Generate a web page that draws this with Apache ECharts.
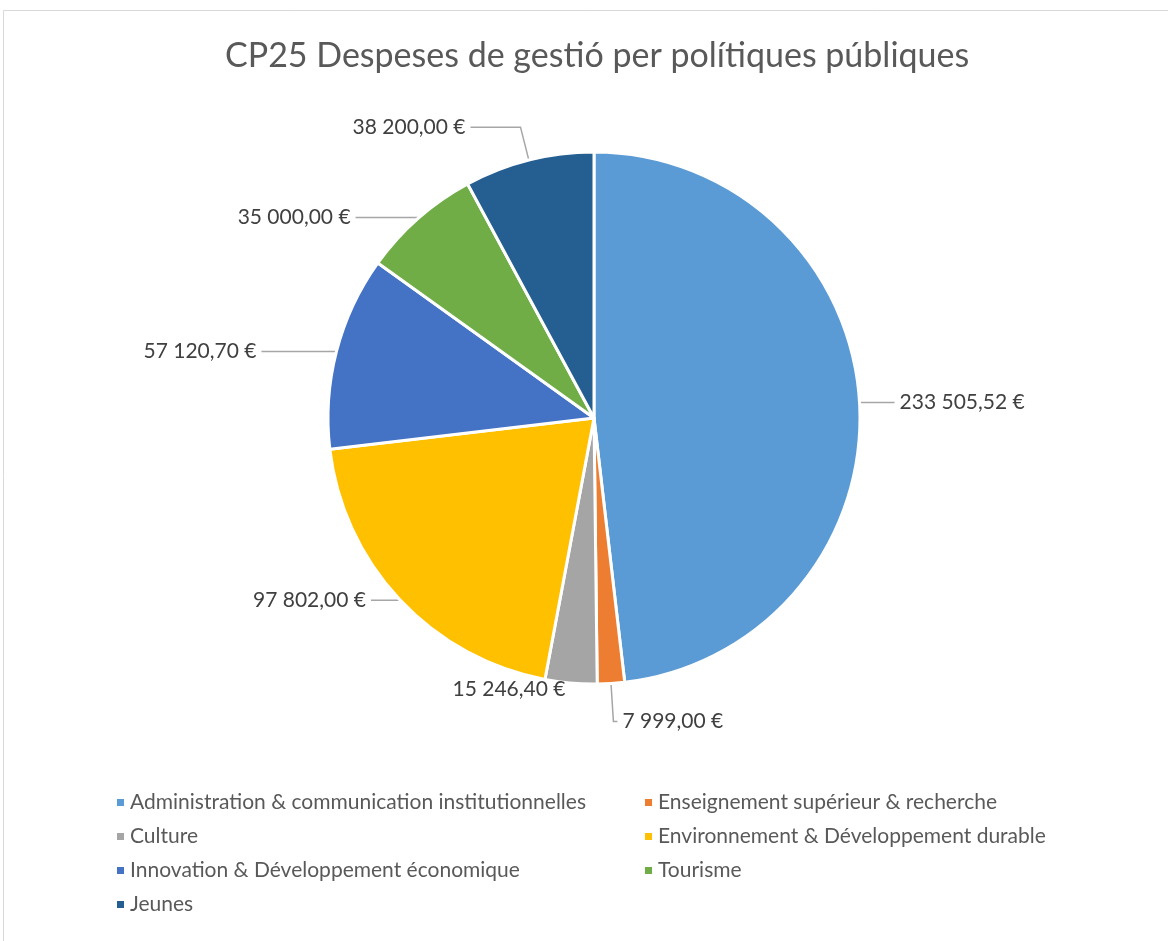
<!DOCTYPE html>
<html>
<head>
<meta charset="utf-8">
<script src="https://cdn.jsdelivr.net/npm/echarts@6/dist/echarts.min.js"></script>
<style>
  html, body { margin: 0; padding: 0; background: #fff; }
  #chart { width: 1168px; height: 941px; }
</style>
</head>
<body>
<div id="chart"></div>
<script>
// Categories and values (CP25)
const categories = [
  "Administration & communication institutionnelles",
  "Enseignement supérieur & recherche",
  "Culture",
  "Environnement & Développement durable",
  "Innovation & Développement économique",
  "Tourisme",
  "Jeunes"
];
const values = [233505.52, 7999.0, 15246.4, 97802.0, 57120.7, 35000.0, 38200.0];
const colors = ["#5B9BD5", "#ED7D31", "#A5A5A5", "#FFC000", "#4472C4", "#70AD47", "#255E91"];

// legend columns as in the original
const legendLeft = [categories[0], categories[2], categories[4], categories[6]];
const legendRight = [categories[1], categories[3], categories[5]];

// leader line lengths per slice [radial, horizontal, visible] (Excel places them by hand)
const leaderLines = [[1, 34, true], [38, 4, true], [6, 0, false], [1, 28, true], [1, 74, true], [1, 62, true], [34, 50, true]];

const fmt = (v) => {
  const parts = v.toFixed(2).split(".");
  const intPart = parts[0].replace(/\B(?=(\d{3})+(?!\d))/g, " ");
  return intPart + "," + parts[1] + " €";
};

const font = "Lato, 'Open Sans', sans-serif";

const legendBase = {
  orient: "vertical",
  top: 787,
  icon: "rect",
  itemWidth: 9,
  itemHeight: 9,
  itemGap: 13,
  textStyle: { color: "#595959", fontSize: 21, fontFamily: font, lineHeight: 20 }
};

const option = {
  color: colors,
  title: {
    text: "CP25 Despeses de gestió per polítiques públiques",
    left: 220,
    top: 34,
    textStyle: { color: "#595959", fontSize: 34, fontWeight: "normal", fontFamily: font }
  },
  graphic: [{
    type: "rect",
    shape: { x: 3.5, y: 10.5, width: 1200, height: 1000 },
    style: { fill: null, stroke: "#d9d9d9", lineWidth: 1 },
    silent: true
  }],
  legend: [
    Object.assign({ left: 110, data: legendLeft }, legendBase),
    Object.assign({ left: 638, data: legendRight }, legendBase)
  ],
  series: [{
    type: "pie",
    center: [594, 418],
    radius: 266,
    startAngle: 90,
    clockwise: true,
    avoidLabelOverlap: false,
    animation: false,
    itemStyle: { borderColor: "#fff", borderWidth: 3 },
    label: {
      show: true,
      position: "outside",
      color: "#404040",
      fontSize: 21,
      fontFamily: font,
      distanceToLabelLine: 5,
      formatter: (p) => fmt(p.value)
    },
    labelLine: {
      show: true,
      lineStyle: { color: "#a6a6a6", width: 1.5 }
    },
    emphasis: { disabled: true },
    data: categories.map((name, i) => ({
      name: name,
      value: values[i],
      labelLine: {
        show: leaderLines[i][2],
        length: leaderLines[i][0],
        length2: leaderLines[i][1]
      }
    }))
  }]
};

const myChart = echarts.init(document.getElementById("chart"));
myChart.setOption(option);
</script>
</body>
</html>
